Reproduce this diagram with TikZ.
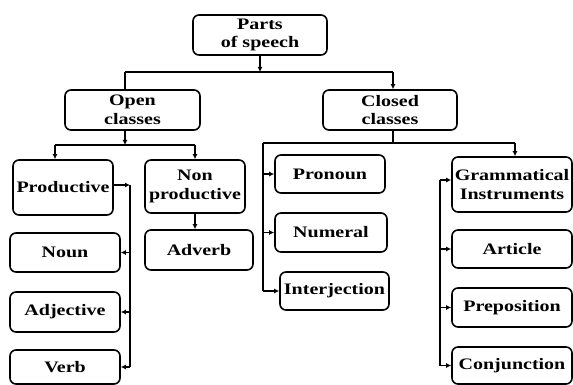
\documentclass[tikz,border=0pt]{standalone}
\usepackage{fontspec}
\setmainfont{Liberation Serif}[FakeStretch=1.25]
\usetikzlibrary{arrows.meta}
\begin{document}
\begin{tikzpicture}[x=1pt,y=-1pt,
  box/.style={draw, line width=1.6pt, rounded corners=6pt, inner sep=0pt,
    align=center, font=\fontsize{16}{18.5}\selectfont\bfseries},
  conn/.style={line width=1.4pt},
  arr/.style={conn, -{Latex[length=5pt,width=5pt]}}]
\useasboundingbox (0,0) rectangle (573,385);
% boxes
\node[box, minimum width=134pt, minimum height=40pt] (parts) at (260,35) {Parts\\of speech};
\node[box, minimum width=135pt, minimum height=40pt] (open) at (132.5,110) {Open\\classes};
\node[box, minimum width=134pt, minimum height=40pt] (closed) at (390,110) {Closed\\classes};
\node[box, minimum width=100pt, minimum height=55pt] (prod) at (63,187.5) {Productive};
\node[box, minimum width=100pt, minimum height=53pt] (nonprod) at (195,186.5) {Non\\productive};
\node[box, minimum width=108pt, minimum height=40pt] (adverb) at (199,250) {Adverb};
\node[box, minimum width=110pt, minimum height=39pt] (noun) at (65,252.5) {Noun};
\node[box, minimum width=110pt, minimum height=40pt] (adj) at (65,312) {Adjective};
\node[box, minimum width=110pt, minimum height=34pt] (verb) at (65,367) {Verb};
\node[box, minimum width=110pt, minimum height=38pt] (pronoun) at (330,174) {Pronoun};
\node[box, minimum width=112pt, minimum height=39pt] (numeral) at (331,232.5) {Numeral};
\node[box, minimum width=109pt, minimum height=38pt] (interj) at (334.5,291) {Interjection};
\node[box, minimum width=120pt, minimum height=55pt] (gram) at (512,184.5) {Grammatical\\Instruments};
\node[box, minimum width=120pt, minimum height=38pt] (article) at (512,249) {Article};
\node[box, minimum width=120pt, minimum height=39pt] (prep) at (512,307.5) {Preposition};
\node[box, minimum width=120pt, minimum height=37pt] (conj) at (512,365.5) {Conjunction};
% bend coordinates
\coordinate (b1) at (260,72);
\coordinate (b1l) at (125,72);
\coordinate (b1r) at (393,72);
\coordinate (b2) at (125,145);
\coordinate (b2l) at (55,145);
\coordinate (b2r) at (195,145);
\coordinate (pv) at (130,185);
\coordinate (b3) at (393,143);
\coordinate (b3l) at (263,143);
\coordinate (b3r) at (515,143);
\coordinate (gv) at (440,180);
% connectors
\draw[arr] (parts.south) -- (b1);
\draw[conn] (b1l) -- (b1r);
\draw[conn] (b1l) -- (open.north -| b1l);
\draw[arr] (b1r) -- (closed.north -| b1r);
\draw[arr] (open.south -| b2) -- (b2);
\draw[conn] (b2l) -- (b2r);
\draw[arr] (b2l) -- (prod.north -| b2l);
\draw[arr] (b2r) -- (nonprod.north -| b2r);
\draw[arr] (prod.east |- pv) -- (pv);
\draw[conn] (pv) -- (pv |- verb.east);
\draw[arr] (pv |- noun.east) -- (noun.east);
\draw[arr] (pv |- adj.east) -- (adj.east);
\draw[arr] (pv |- verb.east) -- (verb.east);
\draw[arr] (nonprod.south) -- (adverb.north -| nonprod.south);
\draw[conn] (closed.south -| b3) -- (b3);
\draw[conn] (b3l) -- (b3r);
\draw[arr] (b3r) -- (gram.north -| b3r);
\draw[conn] (b3l) -- (b3l |- interj.west);
\draw[arr] (b3l |- pronoun.west) -- (pronoun.west);
\draw[arr] (b3l |- numeral.west) -- (numeral.west);
\draw[arr] (b3l |- interj.west) -- (interj.west);
\draw[conn] (gv) -- (gv |- conj.west);
\draw[arr] (gv) -- (gram.west |- gv);
\draw[arr] (gv |- article.west) -- (article.west);
\draw[arr] (gv |- prep.west) -- (prep.west);
\draw[arr] (gv |- conj.west) -- (conj.west);
\end{tikzpicture}
\end{document}
